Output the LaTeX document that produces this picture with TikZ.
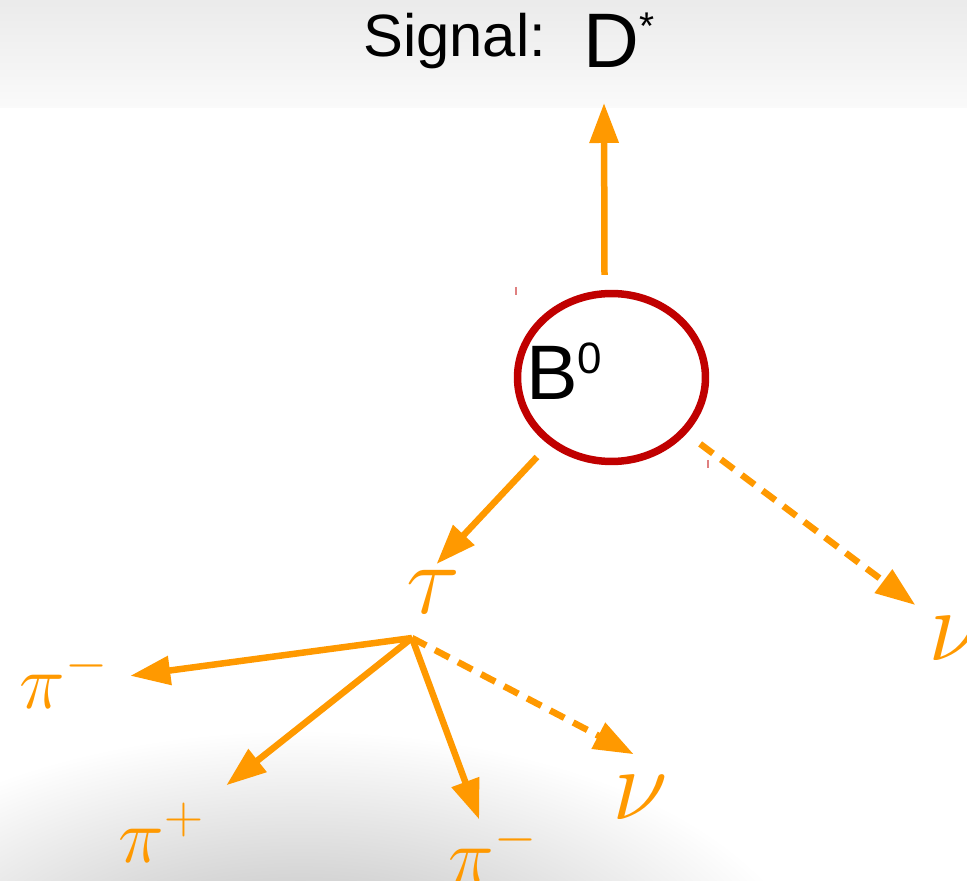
\RequirePackage{fix-cm}
\documentclass[tikz,border=0pt]{standalone}
\usepackage[no-math]{fontspec}
\setmainfont{Liberation Sans}
\usetikzlibrary{arrows.meta,shapes.geometric}
\definecolor{decayorange}{RGB}{255,153,0}
\definecolor{bred}{RGB}{192,0,0}

\begin{document}
\begin{tikzpicture}[x=0.02cm, y=-0.02cm,
        arr/.style={-{Triangle[length=0.8cm,width=0.56cm]}, line width=0.13cm, decayorange},
        darr/.style={arr, dash pattern=on 0.32cm off 0.2cm},
        lbl/.style={text=decayorange, inner sep=2pt, anchor=base west},
        txt/.style={inner sep=0pt, anchor=base west},
        bcirc/.style={draw=bred, line width=0.15cm, ellipse, inner sep=0pt,
                      minimum width=3.76cm, minimum height=3.36cm}
      ]
      \useasboundingbox (0,0) rectangle (967,881);
      % background
      \fill[white] (0,0) rectangle (967,881);
      \shade[top color=black!8, bottom color=black!2] (0,0) rectangle (967,108);
      \begin{scope}
        \clip (0,0) rectangle (967,881);
        \shade[inner color=black!30, outer color=white] (300,1000) ellipse [x radius=520, y radius=270];
      \end{scope}

      % title
      \node[txt, font=\fontsize{34}{34}\selectfont] (sig) at (363,57) {Signal:};
      \node[txt, font=\fontsize{44}{44}\selectfont] (dstar) at (583,68)
        {D\raisebox{16pt}{\fontsize{22}{22}\selectfont *}};
      \coordinate (dtip) at (604,103);

      % B meson
      \node[bcirc] (b0) at (611.5,377.5) {};
      \node[txt, font=\fontsize{44}{44}\selectfont] (b0txt) at (526,400)
        {B\raisebox{15pt}{\fontsize{25}{25}\selectfont 0}};
      \draw[bred!50, line width=0.04cm] (516,287) -- (516,295);
      \draw[bred!50, line width=0.04cm] (708,460) -- (708,468);

      % decay products
      \node[lbl, font=\fontsize{57}{57}\selectfont] (tau) at (403,614) {$\tau$};
      \node[lbl, font=\fontsize{58}{58}\selectfont] (nuB) at (925,660) {$\nu$};
      \node[lbl, font=\fontsize{44}{44}\selectfont] (pimA) at (16,708) {$\pi^-$};
      \node[lbl, font=\fontsize{44}{44}\selectfont] (pip) at (115,862) {$\pi^+$};
      \node[lbl, font=\fontsize{44}{44}\selectfont] (pimB) at (445,882) {$\pi^-$};
      \node[lbl, font=\fontsize{58}{58}\selectfont] (nuA) at (609,819) {$\nu$};
      \coordinate (vtx) at (412,638);

      \draw[arr] ([shift={(-7,-15)}]b0.north) -- (dtip);
      \draw[arr, shorten <=0.34cm, shorten >=0.08cm] (b0) -- (tau.north);
      \draw[darr, shorten <=0.34cm, shorten >=0.24cm] (b0) -- (nuB.north west);

      \draw[arr, shorten >=0.36cm] (vtx) -- (pimA.east);
      \draw[arr, shorten >=0.46cm] (vtx) -- (pip.north east);
      \draw[arr] (vtx) -- ([shift={(-14,1)}]pimB.north);
      \draw[darr] (vtx) -- ([shift={(-7,-17)}]nuA.north);
    \end{tikzpicture}
\end{document}
